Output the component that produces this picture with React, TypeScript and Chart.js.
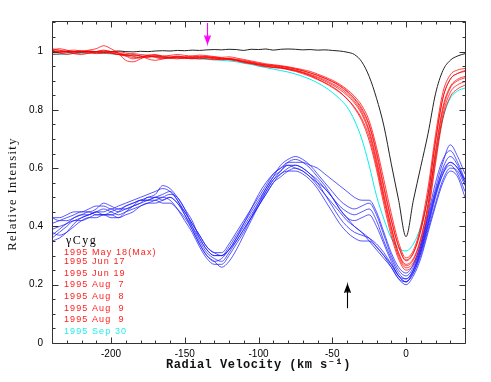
import React, { useEffect, useRef } from 'react';
import { Chart, registerables } from 'chart.js';

Chart.register(...registerables);

// Radial velocity grid (km/s)
const VELOCITY = [
  -240, -235, -230, -225, -220, -215, -210, -205, -200, -195,
  -190, -185, -180, -175, -170, -165, -160, -155, -150, -145,
  -140, -135, -130, -125, -120, -115, -110, -105, -100, -95,
  -90, -85, -80, -75, -70, -65, -60, -55, -50, -45,
  -40, -35, -30, -25, -20, -15, -10, -5, 0, 5,
  10, 15, 20, 25, 30, 35, 40,
];

const STANDARD_BLACK = [
  1.002, 0.998, 1.000, 0.999, 1.000, 1.001, 1.000, 0.998, 1.000, 1.002,
  1.000, 0.999, 1.001, 1.000, 1.002, 1.003, 1.002, 1.004, 1.003, 1.005,
  1.004, 1.006, 1.007, 1.006, 1.008, 1.007, 1.004, 1.008, 1.007, 1.009,
  1.005, 1.008, 1.009, 1.008, 1.006, 1.007, 1.005, 1.006, 1.004, 1.002,
  0.998, 0.990, 0.965, 0.915, 0.840, 0.745, 0.615, 0.490, 0.365, 0.490,
  0.605, 0.720, 0.855, 0.935, 0.970, 0.985, 0.993,
];

const SEP30_CYAN = [
  0.990, 0.990, 0.992, 0.993, 0.994, 0.995, 0.995, 0.994, 0.992, 0.990,
  0.988, 0.986, 0.985, 0.985, 0.983, 0.981, 0.980, 0.979, 0.978, 0.976,
  0.975, 0.973, 0.972, 0.970, 0.968, 0.965, 0.960, 0.956, 0.950, 0.945,
  0.940, 0.935, 0.930, 0.923, 0.915, 0.905, 0.893, 0.878, 0.860, 0.838,
  0.810, 0.765, 0.700, 0.610, 0.505, 0.425, 0.360, 0.325, 0.316, 0.340,
  0.400, 0.500, 0.640, 0.770, 0.840, 0.865, 0.875,
];

const RED_1 = [
  1.000, 0.995, 0.990, 0.995, 1.000, 1.005, 1.010, 1.020, 1.010, 0.995,
  0.985, 0.975, 0.980, 0.985, 0.980, 0.975, 0.980, 0.985, 0.980, 0.978,
  0.982, 0.980, 0.975, 0.972, 0.975, 0.970, 0.965, 0.960, 0.955, 0.950,
  0.947, 0.945, 0.940, 0.935, 0.928, 0.918, 0.906, 0.894, 0.880, 0.862,
  0.838, 0.806, 0.763, 0.695, 0.595, 0.475, 0.368, 0.288, 0.250, 0.268,
  0.330, 0.445, 0.615, 0.770, 0.845, 0.872, 0.885,
];
const RED_2 = [
  1.005, 1.000, 0.998, 1.000, 1.003, 1.000, 0.998, 1.000, 0.997, 0.990,
  0.990, 0.993, 0.990, 0.988, 0.990, 0.985, 0.987, 0.990, 0.987, 0.985,
  0.988, 0.986, 0.983, 0.980, 0.982, 0.978, 0.973, 0.968, 0.963, 0.958,
  0.955, 0.952, 0.948, 0.943, 0.938, 0.932, 0.923, 0.913, 0.902, 0.888,
  0.870, 0.847, 0.815, 0.763, 0.672, 0.560, 0.445, 0.345, 0.292, 0.318,
  0.400, 0.535, 0.715, 0.860, 0.920, 0.937, 0.942,
];
const RED_3 = [
  0.990, 0.992, 0.996, 1.000, 0.997, 0.995, 1.000, 1.005, 1.000, 0.993,
  0.970, 0.965, 0.975, 0.985, 0.982, 0.978, 0.980, 0.982, 0.978, 0.975,
  0.980, 0.982, 0.978, 0.975, 0.973, 0.972, 0.966, 0.962, 0.957, 0.953,
  0.950, 0.946, 0.942, 0.937, 0.930, 0.922, 0.913, 0.903, 0.890, 0.876,
  0.856, 0.830, 0.792, 0.730, 0.630, 0.510, 0.400, 0.310, 0.270, 0.290,
  0.360, 0.480, 0.660, 0.810, 0.880, 0.905, 0.915,
];
const RED_4 = [
  1.010, 1.005, 1.000, 0.995, 0.997, 1.002, 1.000, 0.998, 0.995, 0.990,
  0.985, 0.988, 0.985, 0.980, 0.984, 0.980, 0.976, 0.980, 0.983, 0.980,
  0.977, 0.978, 0.977, 0.976, 0.972, 0.968, 0.962, 0.958, 0.955, 0.950,
  0.945, 0.943, 0.938, 0.932, 0.924, 0.915, 0.904, 0.892, 0.877, 0.860,
  0.838, 0.810, 0.770, 0.708, 0.608, 0.490, 0.382, 0.297, 0.258, 0.276,
  0.342, 0.460, 0.630, 0.783, 0.860, 0.886, 0.897,
];
const RED_5 = [
  0.995, 0.998, 1.003, 1.005, 1.002, 1.000, 0.997, 0.996, 0.994, 0.990,
  0.987, 0.980, 0.982, 0.987, 0.988, 0.984, 0.982, 0.978, 0.976, 0.980,
  0.984, 0.983, 0.980, 0.977, 0.976, 0.974, 0.970, 0.965, 0.960, 0.955,
  0.951, 0.949, 0.945, 0.940, 0.934, 0.927, 0.919, 0.909, 0.898, 0.884,
  0.865, 0.840, 0.806, 0.750, 0.657, 0.538, 0.425, 0.332, 0.282, 0.308,
  0.388, 0.512, 0.693, 0.840, 0.905, 0.925, 0.932,
];
const RED_6 = [
  1.000, 1.003, 1.000, 0.993, 0.990, 0.995, 1.000, 1.003, 1.000, 0.996,
  0.990, 0.984, 0.978, 0.982, 0.986, 0.982, 0.978, 0.975, 0.980, 0.984,
  0.980, 0.975, 0.972, 0.974, 0.977, 0.971, 0.964, 0.960, 0.952, 0.948,
  0.946, 0.944, 0.940, 0.934, 0.927, 0.919, 0.910, 0.899, 0.886, 0.870,
  0.850, 0.824, 0.785, 0.722, 0.620, 0.500, 0.395, 0.305, 0.265, 0.285,
  0.355, 0.475, 0.650, 0.800, 0.875, 0.900, 0.910,
];
const RED_7 = [
  1.005, 1.010, 1.005, 1.000, 0.998, 0.996, 0.993, 0.995, 0.998, 1.000,
  0.995, 0.990, 0.985, 0.975, 0.970, 0.975, 0.980, 0.983, 0.980, 0.977,
  0.975, 0.979, 0.981, 0.978, 0.974, 0.970, 0.967, 0.963, 0.958, 0.955,
  0.953, 0.950, 0.946, 0.941, 0.935, 0.927, 0.918, 0.908, 0.896, 0.882,
  0.862, 0.837, 0.800, 0.745, 0.648, 0.530, 0.420, 0.330, 0.285, 0.310,
  0.385, 0.510, 0.690, 0.840, 0.905, 0.925, 0.935,
];

const BLUE_1 = [
  0.43, 0.43, 0.44, 0.45, 0.45, 0.46, 0.47, 0.47, 0.46, 0.47,
  0.48, 0.49, 0.50, 0.51, 0.52, 0.53, 0.52, 0.49, 0.45, 0.41,
  0.37, 0.33, 0.31, 0.31, 0.34, 0.38, 0.42, 0.46, 0.50, 0.54,
  0.58, 0.60, 0.62, 0.62, 0.62, 0.61, 0.60, 0.58, 0.56, 0.54,
  0.52, 0.50, 0.49, 0.49, 0.45, 0.38, 0.31, 0.26, 0.24, 0.27,
  0.34, 0.44, 0.55, 0.63, 0.66, 0.62, 0.56,
];
const BLUE_2 = [
  0.41, 0.42, 0.43, 0.44, 0.45, 0.45, 0.46, 0.48, 0.47, 0.46,
  0.47, 0.48, 0.49, 0.50, 0.51, 0.54, 0.53, 0.50, 0.46, 0.42,
  0.36, 0.32, 0.30, 0.30, 0.33, 0.37, 0.41, 0.45, 0.49, 0.53,
  0.57, 0.61, 0.63, 0.64, 0.63, 0.61, 0.58, 0.55, 0.52, 0.49,
  0.47, 0.46, 0.47, 0.48, 0.44, 0.37, 0.30, 0.25, 0.23, 0.26,
  0.33, 0.43, 0.53, 0.62, 0.68, 0.64, 0.58,
];
const BLUE_3 = [
  0.39, 0.40, 0.41, 0.43, 0.44, 0.44, 0.45, 0.45, 0.46, 0.45,
  0.46, 0.47, 0.48, 0.49, 0.50, 0.51, 0.52, 0.49, 0.44, 0.39,
  0.34, 0.30, 0.28, 0.29, 0.32, 0.36, 0.41, 0.46, 0.51, 0.55,
  0.58, 0.60, 0.61, 0.60, 0.59, 0.57, 0.55, 0.53, 0.50, 0.47,
  0.45, 0.44, 0.45, 0.46, 0.42, 0.35, 0.29, 0.24, 0.22, 0.25,
  0.31, 0.40, 0.50, 0.58, 0.62, 0.60, 0.55,
];
const BLUE_4 = [
  0.37, 0.39, 0.41, 0.42, 0.43, 0.44, 0.45, 0.46, 0.45, 0.44,
  0.45, 0.46, 0.47, 0.48, 0.49, 0.50, 0.51, 0.50, 0.46, 0.40,
  0.35, 0.31, 0.29, 0.28, 0.31, 0.35, 0.39, 0.43, 0.47, 0.52,
  0.56, 0.59, 0.62, 0.63, 0.62, 0.60, 0.57, 0.54, 0.50, 0.46,
  0.43, 0.42, 0.43, 0.44, 0.40, 0.34, 0.28, 0.23, 0.21, 0.24,
  0.30, 0.39, 0.48, 0.56, 0.60, 0.59, 0.54,
];
const BLUE_5 = [
  0.36, 0.38, 0.40, 0.42, 0.42, 0.43, 0.44, 0.44, 0.45, 0.46,
  0.46, 0.47, 0.48, 0.50, 0.50, 0.49, 0.50, 0.48, 0.44, 0.40,
  0.36, 0.32, 0.30, 0.30, 0.32, 0.36, 0.40, 0.44, 0.48, 0.52,
  0.56, 0.58, 0.60, 0.61, 0.60, 0.58, 0.55, 0.51, 0.47, 0.43,
  0.40, 0.38, 0.37, 0.36, 0.34, 0.31, 0.27, 0.23, 0.22, 0.25,
  0.32, 0.41, 0.51, 0.58, 0.61, 0.58, 0.52,
];
const BLUE_6 = [
  0.43, 0.42, 0.42, 0.43, 0.44, 0.45, 0.44, 0.44, 0.43, 0.43,
  0.44, 0.45, 0.47, 0.48, 0.48, 0.49, 0.50, 0.48, 0.45, 0.41,
  0.37, 0.33, 0.31, 0.30, 0.32, 0.35, 0.39, 0.43, 0.47, 0.51,
  0.55, 0.58, 0.59, 0.59, 0.58, 0.56, 0.53, 0.49, 0.45, 0.41,
  0.38, 0.36, 0.35, 0.35, 0.33, 0.30, 0.26, 0.22, 0.20, 0.23,
  0.29, 0.38, 0.47, 0.55, 0.59, 0.57, 0.50,
];
const BLUE_7 = [
  0.38, 0.37, 0.38, 0.40, 0.42, 0.43, 0.43, 0.44, 0.44, 0.43,
  0.45, 0.47, 0.49, 0.49, 0.50, 0.50, 0.49, 0.46, 0.42, 0.38,
  0.33, 0.29, 0.27, 0.27, 0.30, 0.34, 0.38, 0.43, 0.48, 0.53,
  0.57, 0.59, 0.61, 0.61, 0.60, 0.58, 0.56, 0.53, 0.50, 0.46,
  0.43, 0.40, 0.38, 0.36, 0.33, 0.30, 0.27, 0.23, 0.21, 0.24,
  0.31, 0.41, 0.51, 0.60, 0.64, 0.61, 0.55,
];
const BLUE_8 = [
  0.35, 0.36, 0.38, 0.41, 0.43, 0.44, 0.45, 0.44, 0.44, 0.45,
  0.47, 0.48, 0.49, 0.49, 0.49, 0.48, 0.48, 0.46, 0.43, 0.39,
  0.34, 0.30, 0.28, 0.26, 0.28, 0.32, 0.37, 0.42, 0.47, 0.51,
  0.55, 0.57, 0.59, 0.60, 0.59, 0.57, 0.54, 0.51, 0.48, 0.45,
  0.42, 0.40, 0.38, 0.35, 0.32, 0.29, 0.26, 0.22, 0.21, 0.25,
  0.32, 0.42, 0.52, 0.59, 0.62, 0.60, 0.56,
];

const X_TICKS = [-200, -150, -100, -50, 0];
const Y_TICKS = [0, 0.2, 0.4, 0.6, 0.8, 1];

const STAR_NAME = 'γCyg';
const LEGEND_DATES = [
  '1995 May 18(Max)',
  '1995 Jun 17',
  '1995 Jun 19',
  '1995 Aug  7',
  '1995 Aug  8',
  '1995 Aug  9',
  '1995 Aug  9',
  '1995 Sep 30',
];

// Arrow annotations in data units
const MAGENTA_ARROW = { v: -135, from: 1.098, to: 1.028 };
const BLACK_ARROW = { v: -40, from: 0.119, to: 0.2 };

const toPoints = (ys: number[]) => VELOCITY.map((v, i) => ({ x: v, y: ys[i] }));

const RED = 'rgba(255,0,0,0.75)';
const BLUE = 'rgba(30,30,255,0.75)';

const overlay = {
  id: 'overlay',
  afterDraw(chart: any) {
    const { ctx, chartArea: a, scales } = chart;
    const xs = scales.x;
    const ys = scales.y;
    const L = Math.round(a.left) + 0.5;
    const R = Math.round(a.right) + 0.5;
    const T = Math.round(a.top) + 0.5;
    const B = Math.round(a.bottom) + 0.5;
    ctx.save();
    ctx.strokeStyle = '#333';
    ctx.lineWidth = 1;
    ctx.beginPath();
    ctx.rect(L, T, R - L, B - T);
    // x ticks (major every 50, minor every 10)
    for (let v = -240; v <= 40; v += 10) {
      const px = Math.round(xs.getPixelForValue(v)) + 0.5;
      const len = v % 50 === 0 ? 6 : 3;
      ctx.moveTo(px, B);
      ctx.lineTo(px, B - len);
      ctx.moveTo(px, T);
      ctx.lineTo(px, T + len);
    }
    for (let k = 0; k <= 22; k++) {
      const val = k * 0.05;
      const py = Math.round(ys.getPixelForValue(val)) + 0.5;
      const len = k % 4 === 0 ? 6 : 3;
      ctx.moveTo(L, py);
      ctx.lineTo(L + len, py);
      ctx.moveTo(R, py);
      ctx.lineTo(R - len, py);
    }
    ctx.stroke();

    // arrows
    const drawArrow = (arrow: { v: number; from: number; to: number }, color: string) => {
      const px = Math.round(xs.getPixelForValue(arrow.v)) + 0.5;
      const y0 = ys.getPixelForValue(arrow.from);
      const y1 = ys.getPixelForValue(arrow.to);
      const dir = y1 > y0 ? 1 : -1;
      ctx.strokeStyle = color;
      ctx.lineWidth = 1.1;
      ctx.beginPath();
      ctx.moveTo(px, y0);
      ctx.lineTo(px, y1);
      ctx.moveTo(px - 3, y1 - dir * 8);
      ctx.lineTo(px, y1);
      ctx.lineTo(px + 3, y1 - dir * 8);
      ctx.moveTo(px - 1.5, y1 - dir * 8);
      ctx.lineTo(px, y1);
      ctx.lineTo(px + 1.5, y1 - dir * 8);
      ctx.stroke();
    };
    drawArrow(MAGENTA_ARROW, '#ff00ff');
    drawArrow(BLACK_ARROW, '#000');

    // axis titles
    ctx.fillStyle = '#111';
    ctx.textBaseline = 'middle';
    ctx.textAlign = 'center';
    (ctx as any).letterSpacing = '0.5px';
    ctx.font = 'bold 12px "Liberation Mono", "DejaVu Sans Mono", monospace';
    ctx.fillText('Radial Velocity (km s\u207B\u00B9)', (a.left + a.right) / 2, 365);

    ctx.save();
    ctx.translate(13, 194);
    ctx.rotate(-Math.PI / 2);
    (ctx as any).letterSpacing = '1.4px';
    ctx.font = '12.5px "Liberation Serif", "DejaVu Serif", serif';
    ctx.fillText('Relative Intensity', 0, 0);
    ctx.restore();

    // legend
    ctx.textAlign = 'left';
    (ctx as any).letterSpacing = '1.5px';
    ctx.font = '12px "Liberation Serif", "DejaVu Serif", serif';
    ctx.fillStyle = '#000';
    ctx.fillText(STAR_NAME, 66, 241);
    const legendY = [253, 262, 273.5, 285, 296.5, 308.5, 320, 332];
    (ctx as any).letterSpacing = '1.1px';
    ctx.font = '9px "Liberation Sans", Arial, sans-serif';
    LEGEND_DATES.forEach((label, i) => {
      ctx.fillStyle = i === LEGEND_DATES.length - 1 ? '#22eeee' : '#ff2020';
      ctx.fillText(label, 64, legendY[i]);
    });
    ctx.restore();
  },
};

export default function App() {
  const ref = useRef<HTMLCanvasElement>(null);
  useEffect(() => {
    const blues = [BLUE_1, BLUE_2, BLUE_3, BLUE_4, BLUE_5, BLUE_6, BLUE_7, BLUE_8];
    const reds = [RED_1, RED_2, RED_3, RED_4, RED_5, RED_6, RED_7];
    const line = (ys: number[], color: string) => ({
      data: toPoints(ys),
      borderColor: color,
      borderWidth: 1,
      pointRadius: 0,
      fill: false,
      cubicInterpolationMode: 'monotone' as const,
    });
    const datasets = [
      ...blues.map((b) => line(b, BLUE)),
      ...reds.map((r) => line(r, RED)),
      line(SEP30_CYAN, '#00f0f0'),
      line(STANDARD_BLACK, '#222'),
    ];
    const tickFont = { family: '"Liberation Sans", Arial, sans-serif', size: 10 };
    const chart = new Chart(ref.current as HTMLCanvasElement, {
      type: 'line',
      data: { datasets },
      options: {
        animation: false,
        responsive: false,
        devicePixelRatio: 1,
        layout: { padding: { top: 21, right: 26, left: 0, bottom: 0 } },
        plugins: { legend: { display: false }, tooltip: { enabled: false } },
        scales: {
          x: {
            type: 'linear',
            min: -240,
            max: 40,
            afterBuildTicks: (s: any) => {
              s.ticks = X_TICKS.map((v) => ({ value: v }));
            },
            afterFit: (s: any) => {
              s.height = 39;
            },
            grid: { display: false, drawTicks: false },
            border: { display: false },
            ticks: {
              font: tickFont,
              color: '#000',
              padding: 5,
              maxRotation: 0,
              autoSkip: false,
              callback: (v: any) => String(v),
            },
          },
          y: {
            type: 'linear',
            min: 0,
            max: 1.105,
            afterBuildTicks: (s: any) => {
              s.ticks = Y_TICKS.map((v) => ({ value: v }));
            },
            afterFit: (s: any) => {
              s.width = 52;
            },
            grid: { display: false, drawTicks: false },
            border: { display: false },
            ticks: {
              font: tickFont,
              color: '#000',
              padding: 9,
              autoSkip: false,
              callback: (v: any) => String(v),
            },
          },
        },
      },
      plugins: [overlay],
    });
    return () => chart.destroy();
  }, []);
  return (
    <div style={{ position: 'fixed', left: 0, top: 0, width: 491, height: 382, background: '#fff' }}>
      <canvas ref={ref} width={491} height={382} style={{ display: 'block', width: 491, height: 382 }} />
    </div>
  );
}
